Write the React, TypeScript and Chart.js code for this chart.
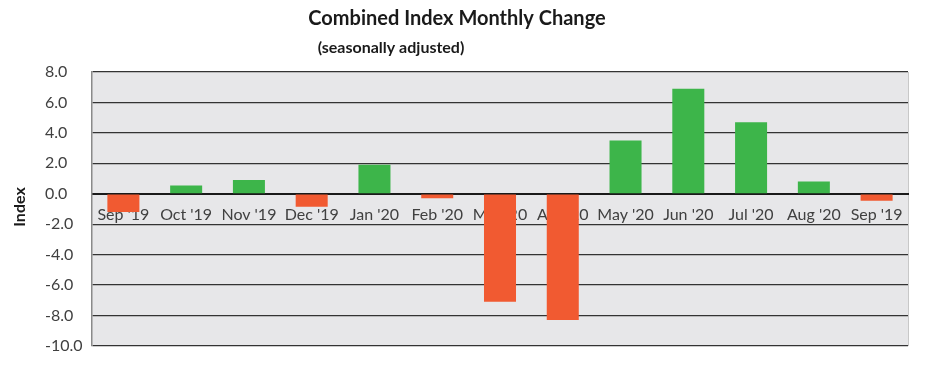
import React, { useEffect, useRef } from "react";
import { Chart, registerables } from "chart.js";

Chart.register(...registerables);

const categories: string[] = [
  "Sep '19", "Oct '19", "Nov '19", "Dec '19", "Jan '20", "Feb '20", "Mar '20",
  "Apr '20", "May '20", "Jun '20", "Jul '20", "Aug '20", "Sep '19",
];
const monthlyChange: number[] = [-1.2, 0.55, 0.9, -0.85, 1.9, -0.3, -7.1, -8.3, 3.5, 6.9, 4.7, 0.8, -0.45];
const yTicks: number[] = [-10, -8, -6, -4, -2, 0, 2, 4, 6, 8];
const titleText = "Combined Index Monthly Change";
const subtitleText = "(seasonally adjusted)";
const yTitle = "Index";

const GREEN = "#3db54a";
const RED = "#f15a31";
const FONT = "Lato, 'Open Sans', sans-serif";

const bgPlugin = {
  id: "plotBg",
  beforeDraw(chart: any) {
    const { ctx, chartArea } = chart;
    ctx.save();
    ctx.fillStyle = "#e7e7e9";
    ctx.fillRect(chartArea.left, chartArea.top, chartArea.right - chartArea.left, chartArea.bottom - chartArea.top);
    ctx.strokeStyle = "#c8c8c8";
    ctx.lineWidth = 1;
    ctx.beginPath();
    ctx.moveTo(chartArea.right + 0.5, chartArea.top);
    ctx.lineTo(chartArea.right + 0.5, chartArea.bottom);
    ctx.stroke();
    ctx.restore();
  },
};

const titlesPlugin = {
  id: "titles",
  afterDraw(chart: any) {
    const { ctx, chartArea } = chart;
    ctx.save();
    ctx.fillStyle = "#1a1a1a";
    ctx.textBaseline = "middle";
    ctx.textAlign = "center";
    ctx.font = `bold 20px ${FONT}`;
    ctx.fillText(titleText, 457, 19);
    ctx.font = `bold 16px ${FONT}`;
    ctx.fillText(subtitleText, 391, 48);
    ctx.translate(20, (chartArea.top + chartArea.bottom) / 2 - 2);
    ctx.rotate(-Math.PI / 2);
    ctx.font = `bold 16px ${FONT}`;
    ctx.fillText(yTitle, 0, 0);
    ctx.restore();
  },
};

export default function App() {
  const ref = useRef<HTMLCanvasElement | null>(null);
  useEffect(() => {
    if (!ref.current) return;
    const chart = new Chart(ref.current, {
      type: "bar",
      data: {
        labels: categories,
        datasets: [
          {
            data: monthlyChange,
            backgroundColor: monthlyChange.map((v) => (v >= 0 ? GREEN : RED)),
            barPercentage: 0.51,
            categoryPercentage: 1,
          },
        ],
      },
      options: {
        animation: false,
        responsive: true,
        maintainAspectRatio: false,
        layout: { padding: { top: 72, right: 17, bottom: 28, left: 45 } },
        plugins: {
          legend: { display: false },
          tooltip: { enabled: false },
          title: { display: false },
        },
        scales: {
          x: {
            type: "category",
            position: { y: 0 } as any,
            grid: { display: false, drawTicks: false },
            border: { display: true, color: "#1a1a1a", width: 2 },
            ticks: {
              color: "#404040",
              font: { family: FONT, size: 16 },
              padding: 11,
              maxRotation: 0,
              autoSkip: false,
            },
          },
          y: {
            min: -10,
            max: 8,
            afterBuildTicks: (scale: any) => {
              scale.ticks = yTicks.map((v) => ({ value: v }));
            },
            afterFit: (scale: any) => {
              scale.width = 47;
            },
            grid: { color: "#333333", lineWidth: 1.3, drawTicks: false },
            border: { color: "#8a8a8a", width: 1.5 },
            ticks: {
              color: "#404040",
              font: { family: FONT, size: 16 },
              padding: 10,
              crossAlign: "far",
              callback: (v: any) => Number(v).toFixed(1),
            },
          },
        },
      },
      plugins: [bgPlugin, titlesPlugin],
    });
    return () => chart.destroy();
  }, []);
  return (
    <div style={{ position: "fixed", left: 0, top: 0, width: 925, height: 374, background: "#fff" }}>
      <canvas ref={ref} />
    </div>
  );
}
